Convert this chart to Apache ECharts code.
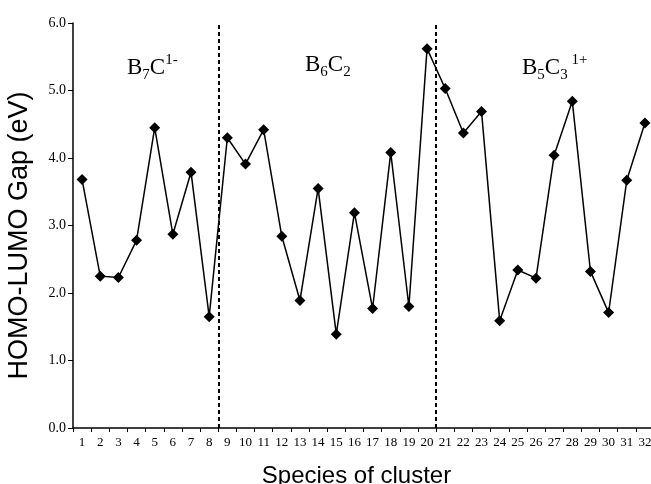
<!DOCTYPE html>
<html>
<head>
<meta charset="utf-8">
<script src="https://cdn.jsdelivr.net/npm/echarts@6/dist/echarts.min.js"></script>
<style>
  html, body { margin: 0; padding: 0; background: #fff; }
  #main { width: 651px; height: 484px; }
</style>
</head>
<body>
<div id="main"></div>
<script>
// species numbers 1..32
const species = ['1', '2', '3', '4', '5', '6', '7', '8', '9', '10', '11', '12', '13', '14', '15', '16',
  '17', '18', '19', '20', '21', '22', '23', '24', '25', '26', '27', '28', '29', '30', '31', '32']
// HOMO-LUMO gap (eV)
const gap = [3.68, 2.25, 2.23, 2.78, 4.45, 2.87, 3.79, 1.65, 4.30, 3.91, 4.42, 2.84, 1.89, 3.55, 1.39, 3.19,
  1.77, 4.08, 1.80, 5.62, 5.03, 4.37, 4.69, 1.59, 2.34, 2.22, 4.04, 4.84, 2.32, 1.71, 3.67, 4.52]
// group separators, in number of species from the left
const separators = [8, 20]
const yTicks = [0, 1, 2, 3, 4, 5, 6]

const chart = echarts.init(document.getElementById('main'), null, { renderer: 'canvas' })

const groupText = {
  main: { fontFamily: 'Liberation Serif', fontSize: 23, color: '#000', lineHeight: 30, verticalAlign: 'middle' },
  sub: { fontFamily: 'Liberation Serif', fontSize: 15, color: '#000', lineHeight: 14, verticalAlign: 'bottom' },
  sup: { fontFamily: 'Liberation Serif', fontSize: 15, color: '#000', lineHeight: 14, verticalAlign: 'top' }
}

// x is the left edge of the label
function groupLabel(x, text) {
  return {
    type: 'text',
    left: x,
    top: 53,
    style: {
      text: text,
      rich: groupText
    }
  }
}

chart.setOption({
  animation: false,
  grid: { left: 73, right: -3, top: 23, bottom: 56, outerBoundsMode: 'none', containLabel: false },
  xAxis: [
    {
      type: 'category',
      data: species,
      boundaryGap: true,
      name: 'Species of cluster',
      nameLocation: 'middle',
      nameGap: 36,
      nameTextStyle: { fontFamily: 'Liberation Sans', fontSize: 24, color: '#000', padding: [0, 14, 0, 0] },
      axisLine: { lineStyle: { color: '#000', width: 1.5 } },
      axisTick: { show: true, length: 4, lineStyle: { color: '#000' } },
      axisLabel: { fontFamily: 'Liberation Serif', fontSize: 13, color: '#000', margin: 8, interval: 0 },
      splitLine: { show: false }
    },
    {
      type: 'value',
      min: 0,
      max: 32,
      show: false
    }
  ],
  yAxis: {
    type: 'value',
    min: 0,
    max: 6,
    interval: 1,
    name: 'HOMO-LUMO Gap (eV)',
    nameLocation: 'middle',
    nameGap: 40,
    nameTextStyle: { fontFamily: 'Liberation Sans', fontSize: 27, color: '#000', padding: [0, 20, 0, 0] },
    axisLine: { show: true, lineStyle: { color: '#000', width: 1.5 } },
    axisTick: { show: true, length: 5, lineStyle: { color: '#000' } },
    axisLabel: {
      fontFamily: 'Liberation Serif', fontSize: 14, color: '#000', margin: 7,
      formatter: v => yTicks.includes(v) ? v.toFixed(1) : ''
    },
    splitLine: { show: false }
  },
  series: [
    {
      type: 'line',
      data: gap,
      symbol: 'diamond',
      symbolSize: 11,
      lineStyle: { color: '#000', width: 1.5 },
      itemStyle: { color: '#000' }
    },
    {
      type: 'line',
      xAxisIndex: 1,
      data: [],
      markLine: {
        silent: true,
        symbol: 'none',
        label: { show: false },
        lineStyle: { color: '#000', width: 2, type: [4, 3] },
        data: separators.map(s => ({ xAxis: s }))
      }
    }
  ],
  graphic: [
    groupLabel(127, '{main|B}{sub|7}{main|C}{sup|1-}'),
    groupLabel(305, '{main|B}{sub|6}{main|C}{sub|2}'),
    groupLabel(522, '{main|B}{sub|5}{main|C}{sub|3}{sup| 1+}')
  ]
})
</script>
</body>
</html>
